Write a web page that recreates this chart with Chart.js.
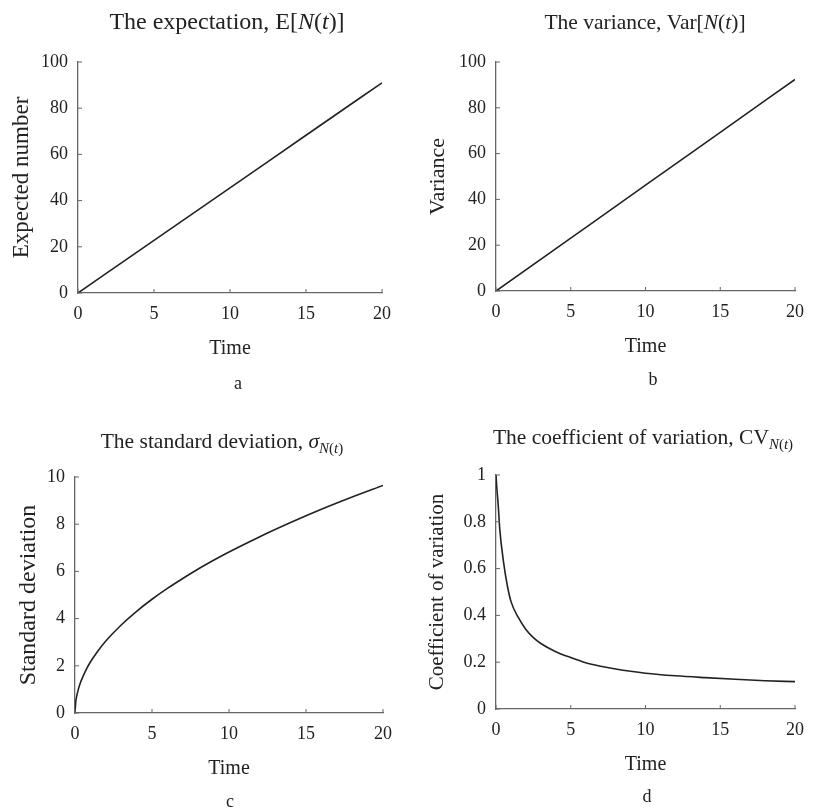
<!DOCTYPE html>
<html>
<head>
<meta charset="utf-8">
<script src="https://cdn.jsdelivr.net/npm/chart.js@4"></script>
<style>
  body { margin: 0; background: #fff; }
  #wrap { position: relative; width: 814px; height: 810px; }
  canvas { position: absolute; }
</style>
</head>
<body>
<div id="wrap">
  <canvas id="chartA" width="405" height="400" style="left:0;top:0"></canvas>
  <canvas id="chartB" width="409" height="400" style="left:405px;top:0"></canvas>
  <canvas id="chartC" width="405" height="405" style="left:0;top:405px"></canvas>
  <canvas id="chartD" width="409" height="405" style="left:405px;top:405px"></canvas>
</div>
<script>
// values
const timeLinear = [0, 5, 10, 15, 20];
const expectedNumber = [0, 22.8, 45.5, 68.3, 91];
const varianceValues = [0, 23.1, 46.2, 69.3, 92.4];

const sdTime = [0, 0.05, 0.1, 0.2, 0.35, 0.5, 0.75, 1, 1.5, 2, 3, 4, 5, 6, 7, 8, 9, 10, 12, 14, 16, 18, 20];
const stdDev = [0, 0.48, 0.68, 0.96, 1.28, 1.52, 1.87, 2.16, 2.64, 3.05, 3.73, 4.31, 4.82, 5.28, 5.7, 6.1, 6.47, 6.82, 7.47, 8.07, 8.63, 9.15, 9.64];

const cvTime = [0, 0.05, 0.15, 0.25, 0.5, 0.75, 1, 1.5, 2, 2.5, 3, 4, 5, 6, 7, 8, 9, 10, 12, 14, 16, 18, 20];
const coefVar = [1.0, 0.95, 0.87, 0.77, 0.63, 0.53, 0.46, 0.39, 0.34, 0.305, 0.28, 0.245, 0.22, 0.198, 0.183, 0.171, 0.161, 0.153, 0.142, 0.134, 0.127, 0.121, 0.117];

const xTicks = [0, 5, 10, 15, 20];
const yTicksHundred = [0, 20, 40, 60, 80, 100];
const yTicksTen = [0, 2, 4, 6, 8, 10];
const yTicksOne = [0, 0.2, 0.4, 0.6, 0.8, 1];

const FONT = '"Liberation Serif", "DejaVu Serif", serif';
const INK = "#222";
const AXIS = "#666";
const X_AXIS_H = 68;

// draws a title made of pieces (italic / subscript)
function drawRich(ctx, segs, cx, cy, size) {
  const fontOf = (s) => (s.i ? "italic " : "") + (s.sub ? Math.round(size * 0.68) : size) + "px " + FONT;
  let total = 0;
  const widths = segs.map((s) => {
    ctx.font = fontOf(s);
    const w = ctx.measureText(s.t).width;
    total += w;
    return w;
  });
  let x = cx - total / 2;
  ctx.textBaseline = "middle";
  ctx.textAlign = "left";
  segs.forEach((s, i) => {
    ctx.font = fontOf(s);
    ctx.fillText(s.t, x, cy + (s.sub ? size * 0.32 : 0));
    x += widths[i];
  });
}

function makePanel(id, p) {
  const extras = {
    id: "extras" + id,
    afterDraw(chart) {
      const ctx = chart.ctx;
      const xs = chart.scales.x;
      const ys = chart.scales.y;
      ctx.save();
      // inward tick marks
      ctx.strokeStyle = AXIS;
      ctx.lineWidth = 1;
      xs.ticks.forEach((t) => {
        const px = xs.getPixelForValue(t.value);
        ctx.beginPath();
        ctx.moveTo(px, xs.top);
        ctx.lineTo(px, xs.top - 4);
        ctx.stroke();
      });
      ys.ticks.forEach((t) => {
        const py = ys.getPixelForValue(t.value);
        ctx.beginPath();
        ctx.moveTo(ys.right, py);
        ctx.lineTo(ys.right + 4, py);
        ctx.stroke();
      });
      ctx.fillStyle = INK;
      drawRich(ctx, p.title, p.titleX, p.titleY, p.titleSize);
      ctx.font = "18px " + FONT;
      ctx.textAlign = "center";
      ctx.textBaseline = "middle";
      ctx.fillText(p.caption, p.capX, p.capY);
      ctx.restore();
    },
  };

  return new Chart(document.getElementById(id), {
    type: "line",
    data: {
      datasets: [
        {
          data: p.xs.map((x, i) => ({ x: x, y: p.ys[i] })),
          borderColor: INK,
          borderWidth: 1.6,
          pointRadius: 0,
          cubicInterpolationMode: "monotone",
          fill: false,
        },
      ],
    },
    options: {
      responsive: false,
      animation: false,
      layout: { padding: { left: 0, top: p.top, right: p.right, bottom: p.height - p.plotBottom - X_AXIS_H } },
      plugins: {
        legend: { display: false },
        tooltip: { enabled: false },
        title: { display: false },
      },
      scales: {
        x: {
          type: "linear",
          min: 0,
          max: 20,
          afterBuildTicks: (s) => { s.ticks = xTicks.map((v) => ({ value: v })); },
          afterFit: (s) => { s.height = X_AXIS_H; },
          grid: { display: false, drawTicks: false },
          border: { display: true, color: AXIS, width: 1.3 },
          ticks: { padding: 10, color: INK, font: { family: FONT, size: 18 }, maxRotation: 0 },
          title: { display: true, text: "Time", color: INK, font: { family: FONT, size: 20 }, padding: 0 },
        },
        y: {
          min: 0,
          max: p.yMax,
          afterBuildTicks: (s) => { s.ticks = p.yTicks.map((v) => ({ value: v })); },
          afterFit: (s) => { s.width = p.left; },
          grid: { display: false, drawTicks: false },
          border: { display: true, color: AXIS, width: 1.3 },
          ticks: { padding: 10, color: INK, font: { family: FONT, size: 18 }, callback: (v) => String(v) },
          title: {
            display: true, text: p.yLabel, color: INK,
            font: { family: FONT, size: p.yLabelSize },
            padding: { top: p.yTitlePad, bottom: 0 },
          },
        },
      },
    },
    plugins: [extras],
  });
}

makePanel("chartA", {
  xs: timeLinear, ys: expectedNumber, yMax: 100, yTicks: yTicksHundred,
  yLabel: "Expected number", yLabelSize: 23, yTitlePad: 8,
  left: 78, right: 23, top: 62, height: 400, plotBottom: 293,
  title: [{ t: "The expectation, E[" }, { t: "N", i: true }, { t: "(" }, { t: "t", i: true }, { t: ")]" }],
  titleSize: 24, titleX: 227, titleY: 23, caption: "a", capX: 238, capY: 384,
});

makePanel("chartB", {
  xs: timeLinear, ys: varianceValues, yMax: 100, yTicks: yTicksHundred,
  yLabel: "Variance", yLabelSize: 22, yTitlePad: 20,
  left: 91, right: 14, top: 62, height: 400, plotBottom: 291,
  title: [{ t: "The variance, Var[" }, { t: "N", i: true }, { t: "(" }, { t: "t", i: true }, { t: ")]" }],
  titleSize: 21.5, titleX: 240, titleY: 23, caption: "b", capX: 248, capY: 380,
});

makePanel("chartC", {
  xs: sdTime, ys: stdDev, yMax: 10, yTicks: yTicksTen,
  yLabel: "Standard deviation", yLabelSize: 24, yTitlePad: 14,
  left: 75, right: 22, top: 72, height: 405, plotBottom: 308,
  title: [
    { t: "The standard deviation, " }, { t: "σ", i: true },
    { t: "N", i: true, sub: true }, { t: "(", sub: true }, { t: "t", i: true, sub: true }, { t: ")", sub: true },
  ],
  titleSize: 21.5, titleX: 222, titleY: 37, caption: "c", capX: 230, capY: 397,
});

makePanel("chartD", {
  xs: cvTime, ys: coefVar, yMax: 1, yTicks: yTicksOne,
  yLabel: "Coefficient of variation", yLabelSize: 21, yTitlePad: 20,
  left: 91, right: 16, top: 70, height: 405, plotBottom: 304,
  title: [
    { t: "The coefficient of variation, CV" },
    { t: "N", i: true, sub: true }, { t: "(", sub: true }, { t: "t", i: true, sub: true }, { t: ")", sub: true },
  ],
  titleSize: 21.5, titleX: 238, titleY: 33, caption: "d", capX: 242, capY: 392,
});
</script>
</body>
</html>
